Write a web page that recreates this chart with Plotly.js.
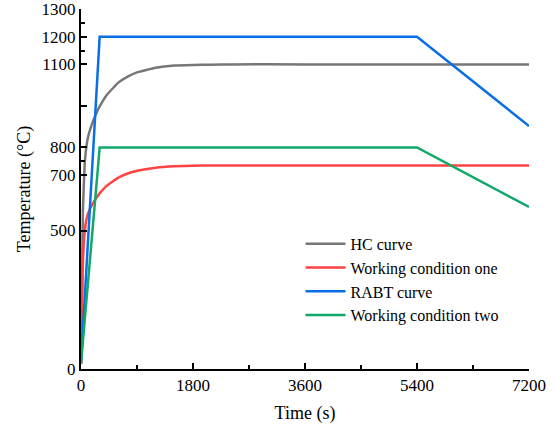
<!DOCTYPE html>
<html>
<head>
<meta charset="utf-8">
<script src="https://cdn.plot.ly/plotly-3.0.1.min.js"></script>
<style>
  html, body { margin: 0; padding: 0; background: #ffffff; }
  #chart { width: 556px; height: 430px; }
</style>
</head>
<body>
<div id="chart"></div>
<script>
// Time points (s) for the two exponential-type curves.
const curveTime = [0, 30, 60, 90, 120, 180, 240, 300, 420, 600, 750, 900, 1200, 1500, 1800, 2100, 2400, 3600, 5400, 7200];
const hcTemp = [20, 569, 743, 809, 844, 887, 920, 948, 991, 1034, 1056, 1071, 1088, 1096, 1098, 1099, 1100, 1100, 1100, 1100];
const condOneTemp = [20, 383, 499, 543, 565, 594, 616, 634, 663, 691, 706, 716, 727, 732, 734, 735, 735, 735, 735, 735];

// Time points (s) for the two piecewise-linear curves.
const rampTime = [0, 300, 1800, 3600, 5400, 7200];
const rabtTemp = [20, 1200, 1200, 1200, 1200, 877];
const condTwoTemp = [20, 800, 800, 800, 800, 585];

const seriesNames = ['HC curve', 'Working condition one', 'RABT curve', 'Working condition two'];
const seriesColors = ['#777777', '#ff4242', '#0a6fe6', '#12a86a'];
const seriesShapes = ['spline', 'spline', 'linear', 'linear'];

const xTicks = [0, 1800, 3600, 5400, 7200];
const xMinor = [900, 2700, 4500, 6300];
const yTicks = [0, 500, 700, 800, 950, 1100, 1200, 1300];
const yTickText = ['0', '500', '700', '800', '', '1100', '1200', '1300'];
const yMinor = [750, 1150, 1250];

const font = 'Liberation Serif';

const xs = [curveTime, curveTime, rampTime, rampTime];
const ys = [hcTemp, condOneTemp, rabtTemp, condTwoTemp];

const traces = seriesNames.map((name, i) => ({
    x: xs[i],
    y: ys[i],
    name: name,
    type: 'scatter',
    mode: 'lines',
    line: { color: seriesColors[i], width: 2.5, shape: seriesShapes[i], smoothing: 0.3 }
}));

const axisCommon = {
    showline: true, linecolor: '#000000', linewidth: 2,
    ticks: 'inside', ticklen: 6, tickwidth: 2, tickcolor: '#000000',
    showgrid: false, zeroline: false, mirror: false,
    ticklabeloverflow: 'allow',
    tickfont: { family: font, size: 17, color: '#000000' }
};

Plotly.newPlot('chart', traces, {
    width: 556,
    height: 430,
    margin: { l: 81, r: 27, t: 9, b: 61 },
    paper_bgcolor: '#ffffff',
    plot_bgcolor: '#ffffff',
    font: { family: font, color: '#000000' },
    xaxis: Object.assign({}, axisCommon, {
        range: [0, 7200],
        tickmode: 'array', tickvals: xTicks,
        minor: { tickmode: 'array', tickvals: xMinor, ticks: 'inside', ticklen: 4, tickwidth: 2, tickcolor: '#000000' },
        title: { text: 'Time (s)', font: { family: font, size: 18 }, standoff: 12 }
    }),
    yaxis: Object.assign({}, axisCommon, {
        range: [0, 1300],
        tickmode: 'array', tickvals: yTicks, ticktext: yTickText,
        minor: { tickmode: 'array', tickvals: yMinor, ticks: 'inside', ticklen: 4, tickwidth: 2, tickcolor: '#000000' },
        title: { text: 'Temperature (°C)', font: { family: font, size: 18 }, standoff: 6 }
    }),
    showlegend: true,
    legend: {
        x: 0.49, y: 0.395, xanchor: 'left', yanchor: 'top',
        bgcolor: 'rgba(0,0,0,0)',
        font: { family: font, size: 16, color: '#000000' },
        tracegroupgap: 0,
        itemwidth: 40
    }
}, { staticPlot: true });
</script>
</body>
</html>
